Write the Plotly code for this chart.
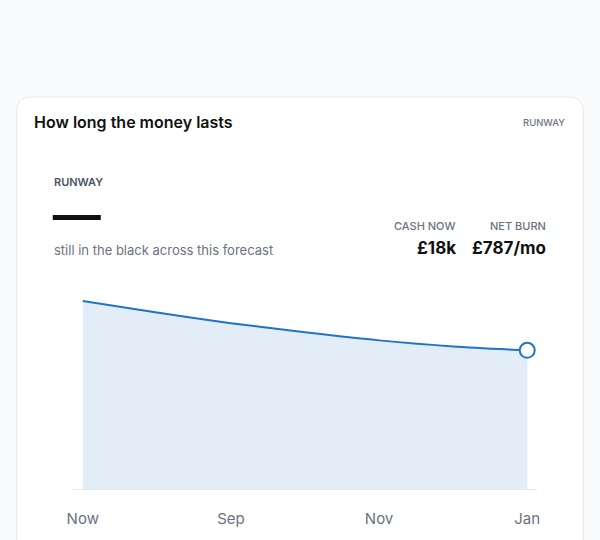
import plotly.graph_objects as go

# ---- data ----
months = ["Now", "Aug", "Sep", "Oct", "Nov", "Dec", "Jan"]
cash = [18000, 16900, 15880, 15000, 14230, 13650, 13280]
tick_labels = ["Now", "Sep", "Nov", "Jan"]
tick_positions = ["Now", "Sep", "Nov", "Jan"]

title_text = "How long the money lasts"
kicker_text = "RUNWAY"
stat_labels = ["CASH NOW", "NET BURN"]
stat_values = ["£18k", "£787/mo"]
subtitle = "still in the black across this forecast"

W, H = 600, 540
FONT = "Inter, 'Noto Sans', sans-serif"
BLUE = "#1f74c9"
FILL = "rgba(31,116,201,0.13)"
GRAY = "#6b7280"

# observed screen mapping: screen_x = 6.3 + 0.984 * layout_x
SX0, SXK = 6.3, 0.984


def px(x):
    return ((x - SX0) / SXK) / W


def py(y):
    return 1 - y / H


x_idx = list(range(len(months)))

fig = go.Figure()
fig.add_trace(go.Scatter(
    x=x_idx, y=cash, mode="lines",
    line=dict(color=BLUE, width=2, shape="spline", smoothing=0.8),
    fill="tozeroy", fillcolor=FILL, hoverinfo="skip", showlegend=False,
))
fig.add_trace(go.Scatter(
    x=[x_idx[-1]], y=[cash[-1]], mode="markers",
    marker=dict(size=15, color="white", line=dict(color=BLUE, width=2)),
    cliponaxis=False, hoverinfo="skip", showlegend=False,
))

# card with rounded corners
x0, y0, x1, y1, r = 17, 97, 583, 580, 14
rx, ry = r / W, r / H
path = (
    f"M {px(x0)+rx},{py(y0)} L {px(x1)-rx},{py(y0)} Q {px(x1)},{py(y0)} {px(x1)},{py(y0)-ry} "
    f"L {px(x1)},{py(y1)+ry} Q {px(x1)},{py(y1)} {px(x1)-rx},{py(y1)} "
    f"L {px(x0)+rx},{py(y1)} Q {px(x0)},{py(y1)} {px(x0)},{py(y1)+ry} "
    f"L {px(x0)},{py(y0)-ry} Q {px(x0)},{py(y0)} {px(x0)+rx},{py(y0)} Z"
)
shapes = [
    dict(type="path", path=path, xref="paper", yref="paper", fillcolor="white",
         line=dict(color="#e7e9ee", width=1), layer="below"),
    dict(type="rect", xref="paper", yref="paper", x0=px(53), x1=px(101), y0=py(215), y1=py(220),
         fillcolor="#111111", line=dict(width=0)),
]

ann = []
ann.append(dict(text=title_text, x=px(32), y=py(122), xanchor="left", yanchor="middle",
                font=dict(family=FONT, size=16, color="#111111", weight=600)))
ann.append(dict(text=kicker_text, x=px(567), y=py(123), xanchor="right", yanchor="middle",
                font=dict(family=FONT, size=9.5, color=GRAY, weight=500)))
ann.append(dict(text=kicker_text, x=px(52), y=py(182), xanchor="left", yanchor="middle",
                font=dict(family=FONT, size=11, color="#4b5563", weight=600)))
ann.append(dict(text=subtitle, x=px(52), y=py(250), xanchor="left", yanchor="middle",
                font=dict(family=FONT, size=13, color=GRAY)))
for lab, val, xr in zip(stat_labels, stat_values, [458, 548]):
    ann.append(dict(text=lab, x=px(xr), y=py(226), xanchor="right", yanchor="middle",
                    font=dict(family=FONT, size=11, color=GRAY, weight=500)))
    ann.append(dict(text=f"<b>{val}</b>", x=px(xr), y=py(248), xanchor="right", yanchor="middle",
                    font=dict(family=FONT, size=17, color="#111111")))
for a in ann:
    a.update(xref="paper", yref="paper", showarrow=False)

pad = 10 / 74
fig.update_layout(
    width=W, height=H, autosize=False,
    margin=dict(l=0, r=0, t=0, b=0),
    paper_bgcolor="#f8fafc", plot_bgcolor="rgba(0,0,0,0)",
    shapes=shapes, annotations=ann,
    xaxis=dict(domain=[px(73), px(537)], range=[-pad, x_idx[-1] + pad],
               tickvals=[months.index(t) for t in tick_positions], ticktext=tick_labels,
               showgrid=False, zeroline=False, showline=True, linecolor="#e5e7eb", linewidth=1,
               ticks="", ticklabelstandoff=16,
               tickfont=dict(family=FONT, size=15, color=GRAY), fixedrange=True),
    yaxis=dict(domain=[py(489), py(489 - 188 * 20000 / 18000)], range=[0, 20000],
               visible=False, fixedrange=True),
)

fig.write_html(
    "out.html",
    config={"displayModeBar": False},
    post_script="document.body.style.margin='0';document.body.style.overflow='hidden';"
                "document.documentElement.style.overflow='hidden';",
)
